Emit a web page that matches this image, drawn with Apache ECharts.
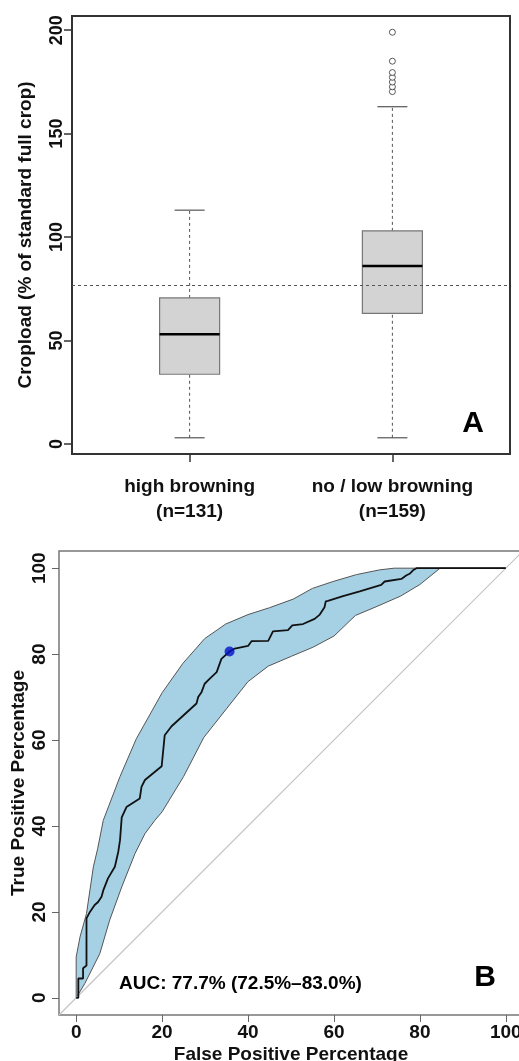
<!DOCTYPE html>
<html>
<head>
<meta charset="utf-8">
<script src="https://cdn.jsdelivr.net/npm/echarts@6/dist/echarts.min.js"></script>
<style>
	html, body { margin: 0; padding: 0; background: #fff; }
	#main { width: 519px; height: 1061px; }
</style>
</head>
<body>
<div id="main"></div>
<script>
// Panel A: cropload by browning group (boxplot statistics)
var categories = ['high browning', 'no / low browning'];
var groupSizes = [131, 159];
var lowerWhisker = [3, 3];
var lowerQuartile = [33.7, 63.1];
var medians = [53, 86];
var upperQuartile = [70.6, 103];
var upperWhisker = [113, 163];
var outlierGroup = [2, 2, 2, 2, 2, 2, 2];
var outlierValues = [170.3, 172.6, 174.9, 177.2, 179.5, 185, 199];
var cutoff = 76.5;
var cropTicks = [0, 50, 100, 150, 200];

// Panel B: ROC curve with confidence band
var rocFpr = [0, 0.5, 0.5, 1.6, 1.6, 2.4, 2.4, 3.2, 4.3, 5.1, 5.9, 6.3, 7.4, 9, 9.8, 10.2, 10.6, 10.6, 11.7, 14.8, 15.2, 16, 19.9, 20.6, 22.2, 28, 28.4, 29.2, 29.9, 31.1, 32.7, 33.8, 35.7, 36.9, 40, 40.8, 44.7, 45.8, 49.3, 50.3, 52.8, 55.5, 56.7, 57.8, 58.1, 58.6, 62.1, 66, 71, 71.8, 75.7, 76.8, 77.6, 78.4, 79.2, 100];
var rocTpr = [0, 0, 4.5, 4.5, 6.9, 7.5, 18.5, 20, 21.6, 22.3, 23.5, 25, 27.8, 30.5, 34, 36.7, 37.1, 42, 44.4, 46.4, 49.1, 50.7, 53.9, 61.1, 63.2, 68.5, 70, 71.2, 73.1, 74.3, 75.8, 78.9, 80.6, 81.3, 81.9, 83, 83.1, 85.3, 85.6, 86.7, 87, 88.2, 89.2, 90.9, 92.3, 92.4, 93.5, 94.6, 96.1, 96.9, 97.5, 98.3, 98.7, 99.5, 100, 100];
var ciUpperFpr = [0, 0, 0.9, 2.4, 4, 5, 6.3, 10.2, 14, 20, 24.8, 29.9, 34.8, 40, 45, 50.5, 55, 59.8, 65.2, 70.6, 74, 100];
var ciUpperTpr = [0, 9.5, 14.2, 19.6, 30.5, 34.7, 41.3, 51.5, 60.3, 71, 77.8, 83.6, 87, 89.2, 90.8, 92.8, 95.3, 96.9, 98.5, 99.6, 100, 100];
var ciLowerFpr = [0, 2, 5.5, 7.8, 10.6, 13.7, 16, 18.3, 20, 25, 29.7, 35, 40, 44.7, 50.1, 55.1, 60, 65, 70, 75.5, 80, 84.7, 100];
var ciLowerTpr = [0, 3.3, 10.3, 18.1, 25.8, 33.6, 38.2, 41.3, 43.3, 51.5, 60.6, 67.3, 73.6, 77.2, 79.5, 81.6, 84.2, 89, 91.1, 93.5, 96.2, 100, 100];
var bestThreshold = [35.7, 80.6];
var rocTicks = [0, 20, 40, 60, 80, 100];
var aucText = 'AUC: 77.7% (72.5%\u201383.0%)';

var font = 'Liberation Sans, Arial, sans-serif';

var boxData = categories.map(function(c, i) {
	return [i + 1, lowerWhisker[i], lowerQuartile[i], medians[i], upperQuartile[i], upperWhisker[i]];
});
var outlierData = outlierValues.map(function(v, i) { return [outlierGroup[i], v]; });
var rocData = rocFpr.map(function(x, i) { return [x, rocTpr[i]]; });
var bandData = [];
ciUpperFpr.forEach(function(x, i) { bandData.push([x, ciUpperTpr[i]]); });
for (var k = ciLowerFpr.length - 1; k >= 0; k--) bandData.push([ciLowerFpr[k], ciLowerTpr[k]]);

function renderBox(params, api) {
	var x = api.value(0);
	var half = 0.148, cap = 0.074;
	function p(dx, v) { return api.coord([x + dx, v]); }
	var lw = api.value(1), q1 = api.value(2), md = api.value(3), q3 = api.value(4), uw = api.value(5);
	var dash = { stroke: '#555', lineWidth: 1, lineDash: [3, 3] };
	var solid = { stroke: '#555', lineWidth: 1.2 };
	var tl = p(-half, q3), br = p(half, q1);
	return {
		type: 'group',
		children: [
			{ type: 'line', shape: { x1: p(0, lw)[0], y1: p(0, lw)[1], x2: p(0, q1)[0], y2: p(0, q1)[1] }, style: dash },
			{ type: 'line', shape: { x1: p(0, q3)[0], y1: p(0, q3)[1], x2: p(0, uw)[0], y2: p(0, uw)[1] }, style: dash },
			{ type: 'line', shape: { x1: p(-cap, lw)[0], y1: p(-cap, lw)[1], x2: p(cap, lw)[0], y2: p(cap, lw)[1] }, style: solid },
			{ type: 'line', shape: { x1: p(-cap, uw)[0], y1: p(-cap, uw)[1], x2: p(cap, uw)[0], y2: p(cap, uw)[1] }, style: solid },
			{ type: 'rect', shape: { x: tl[0], y: tl[1], width: br[0] - tl[0], height: br[1] - tl[1] }, style: { fill: '#d3d3d3', stroke: '#777', lineWidth: 1.2 } },
			{ type: 'line', shape: { x1: p(-half, md)[0], y1: p(-half, md)[1], x2: p(half, md)[0], y2: p(half, md)[1] }, style: { stroke: '#000', lineWidth: 2.5 } }
		]
	};
}

function renderBand(params, api) {
	if (params.dataIndex !== 0) return;
	var pts = bandData.map(function(d) { return api.coord(d); });
	return {
		type: 'polygon',
		shape: { points: pts },
		style: { fill: '#a6d1e5', stroke: '#555', lineWidth: 1 }
	};
}

var myChart = echarts.init(document.getElementById('main'), null, { renderer: 'canvas' });

var option = {
	animation: false,
	backgroundColor: '#fff',
	textStyle: { fontFamily: font },
	grid: [
		{ left: 72, top: 16, width: 438, height: 438, show: true, borderColor: '#333', borderWidth: 2, backgroundColor: 'transparent', outerBoundsMode: 'none', containLabel: false },
		{ left: 59, top: 551, width: 464, height: 464, show: true, borderColor: '#777', borderWidth: 1.5, backgroundColor: 'transparent', outerBoundsMode: 'none', containLabel: false }
	],
	xAxis: [
		{
			gridIndex: 0, type: 'value', min: 0.42, max: 2.58,
			axisLine: { show: false, onZero: false }, splitLine: { show: false },
			axisTick: { show: true, length: 8, customValues: [1, 2], lineStyle: { color: '#333', width: 1.5 } },
			axisLabel: {
				customValues: [1, 2], margin: 20, fontFamily: font, fontWeight: 'bold', fontSize: 19, color: '#111', lineHeight: 25,
				formatter: function(v) { var i = Math.round(v) - 1; return categories[i] + '\n(n=' + groupSizes[i] + ')'; }
			}
		},
		{
			gridIndex: 1, type: 'value', min: -4, max: 104,
			name: 'False Positive Percentage', nameLocation: 'middle', nameGap: 30, nameMoveOverlap: false,
			nameTextStyle: { fontFamily: font, fontWeight: 'bold', fontSize: 19, color: '#111' },
			axisLine: { show: false, onZero: false }, splitLine: { show: false },
			axisTick: { show: true, length: 7, customValues: rocTicks, lineStyle: { color: '#666', width: 1 } },
			axisLabel: { customValues: rocTicks, margin: 8, fontFamily: font, fontWeight: 'bold', fontSize: 19, color: '#111' }
		}
	],
	yAxis: [
		{
			gridIndex: 0, type: 'value', min: -4.84, max: 206.84,
			name: 'Cropload (% of standard full crop)', nameLocation: 'middle', nameGap: 37, nameMoveOverlap: false,
			nameTextStyle: { fontFamily: font, fontWeight: 'bold', fontSize: 19, color: '#111' },
			axisLine: { show: false, onZero: false }, splitLine: { show: false },
			axisTick: { show: true, length: 8, customValues: cropTicks, lineStyle: { color: '#333', width: 1.5 } },
			axisLabel: { customValues: cropTicks, rotate: 90, margin: 6, fontFamily: font, fontWeight: 'bold', fontSize: 18, color: '#111' }
		},
		{
			gridIndex: 1, type: 'value', min: -4, max: 104,
			name: 'True Positive Percentage', nameLocation: 'middle', nameGap: 31, nameMoveOverlap: false,
			nameTextStyle: { fontFamily: font, fontWeight: 'bold', fontSize: 19, color: '#111' },
			axisLine: { show: false, onZero: false }, splitLine: { show: false },
			axisTick: { show: true, length: 7, customValues: rocTicks, lineStyle: { color: '#666', width: 1 } },
			axisLabel: { customValues: rocTicks, rotate: 90, margin: 10, fontFamily: font, fontWeight: 'bold', fontSize: 19, color: '#111' }
		}
	],
	series: [
		{
			type: 'custom', xAxisIndex: 0, yAxisIndex: 0,
			renderItem: renderBox, data: boxData, silent: true,
			encode: { x: 0, y: [1, 5] },
			markLine: {
				silent: true, symbol: 'none', label: { show: false },
				lineStyle: { color: '#555', type: [3, 3], width: 1 },
				data: [{ yAxis: cutoff }]
			}
		},
		{
			type: 'scatter', xAxisIndex: 0, yAxisIndex: 0, data: outlierData,
			symbol: 'circle', symbolSize: 6, silent: true,
			itemStyle: { color: '#fff', borderColor: '#333', borderWidth: 1 }
		},
		{
			type: 'custom', xAxisIndex: 1, yAxisIndex: 1,
			renderItem: renderBand, data: bandData, silent: true, z: 1,
			encode: { x: 0, y: 1 }
		},
		{
			type: 'line', xAxisIndex: 1, yAxisIndex: 1, data: [[-4, -4], [104, 104]],
			symbol: 'none', silent: true, z: 2,
			lineStyle: { color: '#c4c4c4', width: 1.2 }
		},
		{
			type: 'line', xAxisIndex: 1, yAxisIndex: 1, data: rocData,
			symbol: 'none', silent: true, z: 3,
			lineStyle: { color: '#111', width: 1.8 }
		},
		{
			type: 'scatter', xAxisIndex: 1, yAxisIndex: 1, data: [bestThreshold],
			symbol: 'circle', symbolSize: 10, silent: true, z: 4,
			itemStyle: { color: '#0010c8' }
		}
	],
	graphic: [
		{ type: 'text', x: 473, y: 424, style: { text: 'A', font: 'bold 30px ' + font, fill: '#000', align: 'center', verticalAlign: 'middle' } },
		{ type: 'text', x: 485, y: 978, style: { text: 'B', font: 'bold 30px ' + font, fill: '#000', align: 'center', verticalAlign: 'middle' } },
		{ type: 'text', x: 119, y: 984, style: { text: aucText, font: 'bold 19px ' + font, fill: '#000', align: 'left', verticalAlign: 'middle' } }
	]
};

myChart.setOption(option);
</script>
</body>
</html>
